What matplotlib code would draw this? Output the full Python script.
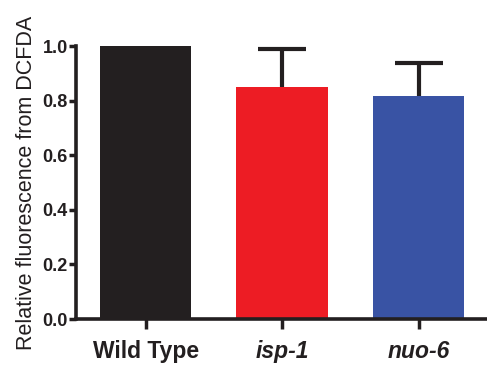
import matplotlib
matplotlib.use("Agg")
import matplotlib.pyplot as plt

strains = ["Wild Type", "isp-1", "nuo-6"]
means = [1.0, 0.85, 0.817]
errs = [0.0, 0.139, 0.121]
colors = ["#231f20", "#ed1c24", "#3953a4"]

plt.rcParams["font.family"] = ["Liberation Sans", "DejaVu Sans"]

fig = plt.figure(figsize=(4.87, 3.71), dpi=100)
ax = fig.add_axes([0.156, 0.140, 0.844, 0.736])

xs = list(range(len(strains)))
ax.bar(xs, means, width=0.67, color=colors, zorder=2)

# only the mutants have an (upward) error bar
ex = [x for x, e in zip(xs, errs) if e > 0]
ey = [m for m, e in zip(means, errs) if e > 0]
ee = [e for e in errs if e > 0]
_, caps, _ = ax.errorbar(ex, ey, yerr=[[0] * len(ee), ee], fmt="none", ecolor="#231f20",
                         elinewidth=3, capsize=17, capthick=3, zorder=1)
caps[0].set_visible(False)  # no cap on the lower side

ax.set_xlim(-0.51, 2.5)
ax.set_ylim(0, 1.0)
ax.set_yticks([0.0, 0.2, 0.4, 0.6, 0.8, 1.0])
ax.set_yticklabels(["0.0", "0.2", "0.4", "0.6", "0.8", "1.0"], fontweight="bold", fontsize=13)
ax.set_xticks(xs)
ax.set_xticklabels(strains, fontsize=16.5, fontweight="bold")
for lab in ax.get_xticklabels()[1:]:
    lab.set_fontstyle("italic")

for s in ["top", "right"]:
    ax.spines[s].set_visible(False)
for s in ["left", "bottom"]:
    ax.spines[s].set_linewidth(2.6)
    ax.spines[s].set_color("#231f20")

ax.tick_params(axis="y", length=5, width=2.5, pad=1, colors="#231f20")
ax.tick_params(axis="x", length=7, width=2.5, pad=8, colors="#231f20")

ax.set_ylabel("Relative fluorescence from DCFDA", fontsize=15.5, color="#231f20", labelpad=4)

fig.savefig("out.png", dpi=100)
